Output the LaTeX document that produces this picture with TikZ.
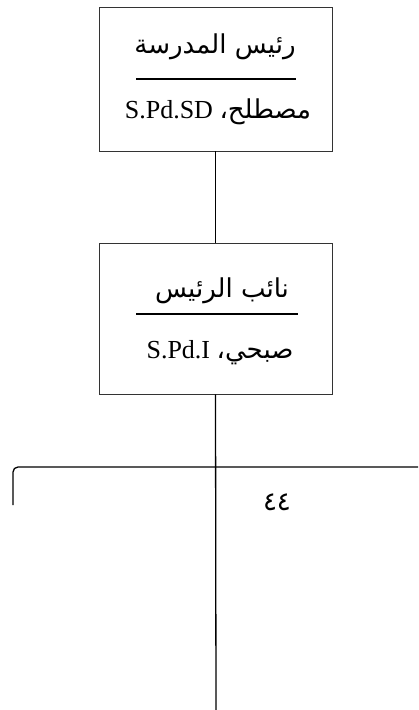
\documentclass[tikz,border=0pt]{standalone}
\usepackage{fontspec}
\setmainfont{Liberation Serif}
\newfontfamily\arabicfont[Script=Arabic]{DejaVu Sans}
\TeXXeTstate=1
\usetikzlibrary{positioning}
\newcommand\arab{\arabicfont\fontsize{26}{30}\selectfont}
\tikzset{
  kotak/.style={draw=black!80, line width=0.8pt, minimum width=233pt, minimum height=144pt, inner sep=0pt},
  garis/.style={draw=black, line width=1.3pt, line cap=butt},
  garisbawah/.style={draw=black, line width=2.6pt},
  judul/.style={anchor=base, inner sep=0pt, font=\arab},
  nama/.style={anchor=base, inner sep=0pt, font=\fontsize{26}{30}\selectfont},
}
\begin{document}
\begin{tikzpicture}[x=1pt, y=-1pt]
\useasboundingbox (0,0) rectangle (418,710);

\node[kotak] (kepsek) at (215.5,79) {};
\node[kotak, minimum height=151pt] (wakil) at (215.5,318.5) {};

\node[judul] (jkepsek) at (215,53) {\beginR رئيس المدرسة\endR};
\draw[garisbawah] (136,79) -- (296,79);
\node[nama] (nkepsek) at (218,118) {\beginR{\arab مصطلح،} \beginL S.Pd.SD\endL\endR};

\node[judul] (jwakil) at (222,297) {\beginR نائب الرئيس\endR};
\draw[garisbawah] (136,314) -- (298,314);
\node[nama] (nwakil) at (220,358) {\beginR{\arab صبحي،} \beginL S.Pd.I\endL\endR};

% cabang bawah
\coordinate (cabang) at (216,467);
\coordinate (ujungkiri) at (13,505);
\coordinate (ujungkanan) at (418,467);
\coordinate (ujungbawah) at (216,710);
\draw[garis] (kepsek.south) -- (wakil.north);
\draw[garis] (wakil.south) -- (ujungbawah);
\draw[garis, rounded corners=5pt] (ujungkiri) |- (ujungkanan);
\node[judul] (nomor) at (277,510) {٤٤};
\end{tikzpicture}
\end{document}
